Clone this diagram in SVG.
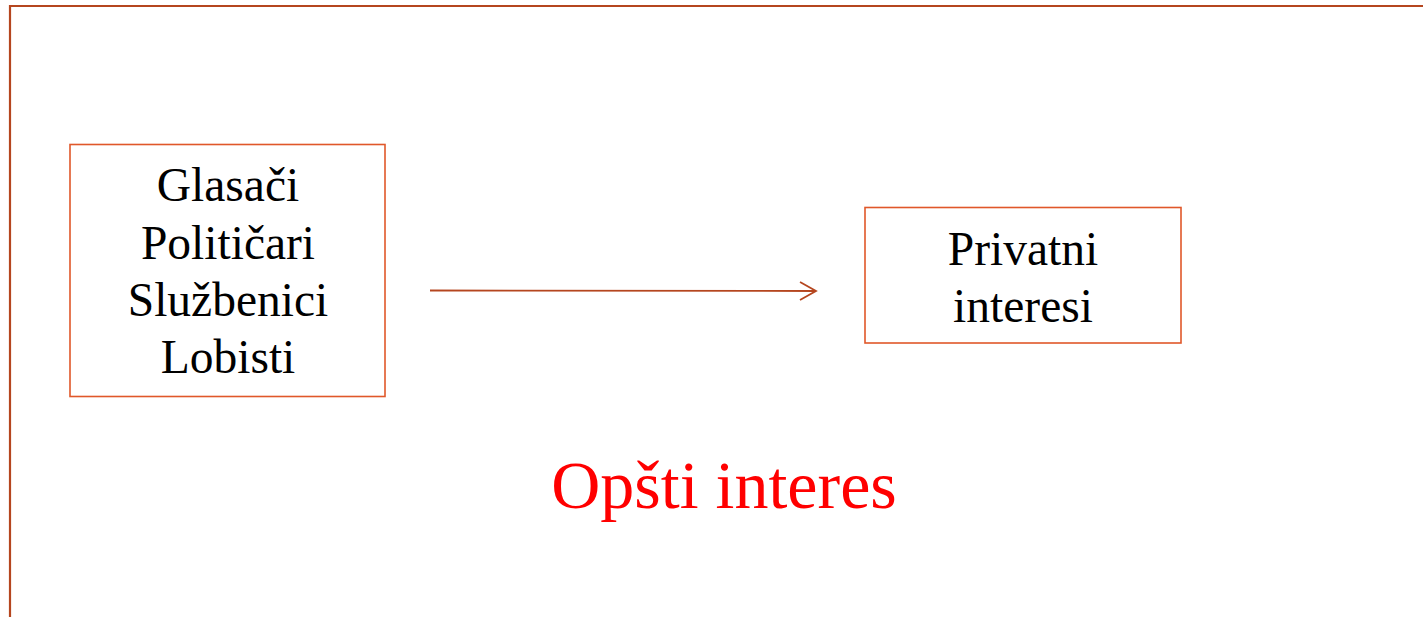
<svg xmlns="http://www.w3.org/2000/svg" width="1423" height="617" viewBox="0 0 1423 617">
<style>
.box{fill:#fff;stroke:#E0582A;stroke-width:1.6}
.t{font-family:"Liberation Serif","Times New Roman",serif;font-size:47.5px;fill:#000;text-anchor:middle}
.title{font-family:"Liberation Serif","Times New Roman",serif;font-size:68px;fill:#FF0000;text-anchor:middle}
</style>
<defs>
<marker id="ah" markerWidth="20" markerHeight="20" refX="17" refY="10" orient="auto" markerUnits="userSpaceOnUse">
<path d="M1,1 L17,10 L1,19" fill="none" stroke="#B5461F" stroke-width="1.8"/>
</marker>
</defs>
<rect width="1423" height="617" fill="#fff"/>
<path d="M10,617 V6 H1423" fill="none" stroke="#B5461F" stroke-width="2.2"/>
<g id="node-actors">
<rect class="box" x="70" y="144.5" width="315" height="252"/>
<text class="t" x="228" y="201">Glasači</text>
<text class="t" x="228" y="258.5">Političari</text>
<text class="t" x="228" y="316">Službenici</text>
<text class="t" x="228" y="373">Lobisti</text>
</g>
<g id="node-private">
<rect class="box" x="865" y="207.5" width="316" height="135.5"/>
<text class="t" x="1023" y="265">Privatni</text>
<text class="t" x="1023" y="322">interesi</text>
</g>
<g id="connectors">
<line x1="430" y1="290.5" x2="816" y2="291" stroke="#B5461F" stroke-width="1.8" marker-end="url(#ah)"/>
</g>
<g id="label-general">
<text class="title" x="724" y="508">Opšti interes</text>
</g>
</svg>
